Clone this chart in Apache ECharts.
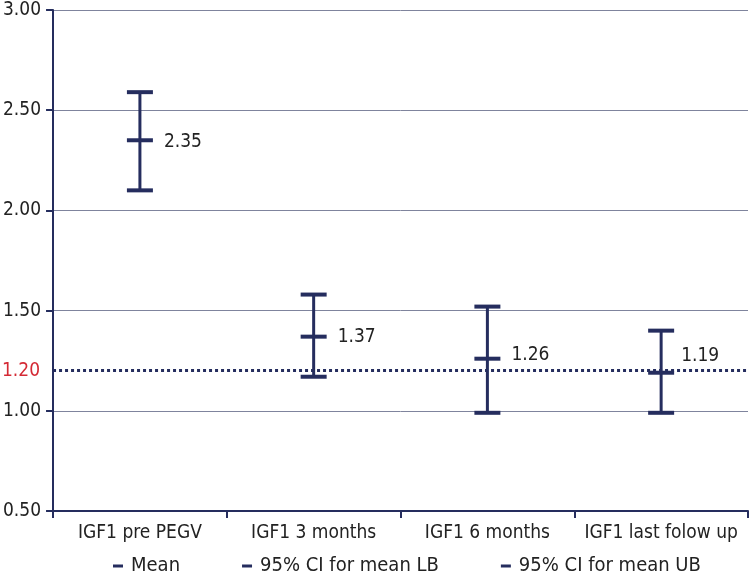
<!DOCTYPE html>
<html>
<head>
<meta charset="utf-8">
<script src="https://cdn.jsdelivr.net/npm/echarts@6/dist/echarts.min.js"></script>
<style>
html,body{margin:0;padding:0;background:#fff;}
#chart{width:750px;height:582px;}
</style>
</head>
<body>
<div id="chart"></div>
<script>
const categories = ['IGF1 pre PEGV', 'IGF1 3 months', 'IGF1 6 months', 'IGF1 last folow up'];
const meanValues = [2.35, 1.37, 1.26, 1.19];
const lbValues = [2.10, 1.17, 0.99, 0.99];
const ubValues = [2.59, 1.58, 1.52, 1.40];
const referenceLevel = 1.20;
const yMin = 0.5, yMax = 3.0, yStep = 0.5;
const legendNames = ['Mean', '95% CI for mean LB', '95% CI for mean UB'];

const NAVY = '#252d5e';
const FONT = "'DejaVu Sans Condensed', 'Liberation Sans Narrow', sans-serif";
const TXT = '#222222';

const chart = echarts.init(document.getElementById('chart'), null, {renderer: 'canvas'});

const capSeries = (name, values, withLabel) => ({
  name: name,
  type: 'scatter',
  symbol: 'rect',
  symbolSize: [26, 4],
  itemStyle: {color: NAVY, opacity: 1},
  emphasis: {disabled: true},
  z: 5,
  data: values.map((v, i) => {
    const item = {value: [i, v]};
    if (withLabel) {
      item.label = {
        show: true,
        position: 'right',
        distance: 11,
        formatter: v.toFixed(2),
        color: TXT,
        fontFamily: FONT,
        fontSize: 19
      };
      if (i === 0) item.label.offset = [0, 2];
      if (i === 2) item.label.offset = [0, -4];
      if (i === 3) item.label.offset = [-4, -17];
    }
    return item;
  })
});

const meanSeries = capSeries(legendNames[0], meanValues, true);
meanSeries.markLine = {
  silent: true,
  symbol: 'none',
  animation: false,
  lineStyle: {type: [3, 3], width: 3, color: NAVY},
  label: {
    show: true,
    position: 'start',
    distance: 13,
    formatter: referenceLevel.toFixed(2),
    color: '#d42a35',
    fontFamily: FONT,
    fontSize: 19
  },
  data: [{yAxis: referenceLevel}]
};

chart.setOption({
  animation: false,
  grid: {left: 52, right: 2, top: 10, bottom: 71, containLabel: false},
  legend: {
    left: 113,
    top: 556,
    padding: 0,
    icon: 'rect',
    itemWidth: 10,
    itemHeight: 3,
    itemGap: 62,
    data: legendNames,
    itemStyle: {opacity: 1},
    textStyle: {color: TXT, fontFamily: FONT, fontSize: 20, padding: [0, 0, 0, 3]}
  },
  xAxis: {
    type: 'category',
    data: categories,
    boundaryGap: true,
    axisLine: {lineStyle: {color: NAVY, width: 2}},
    axisTick: {show: true, length: 7, lineStyle: {color: NAVY, width: 2}},
    axisLabel: {color: TXT, fontFamily: FONT, fontSize: 19, margin: 13, interval: 0},
    splitLine: {show: false}
  },
  yAxis: {
    type: 'value',
    min: yMin,
    max: yMax,
    interval: yStep,
    axisLine: {show: true, lineStyle: {color: NAVY, width: 2}},
    axisTick: {show: true, length: 7, lineStyle: {color: NAVY, width: 2}},
    axisLabel: {
      color: TXT, fontFamily: FONT, fontSize: 19, margin: 12,
      formatter: v => v.toFixed(2)
    },
    splitLine: {show: true, lineStyle: {color: '#7f849d', width: 1}}
  },
  series: [
    {
      name: 'range',
      type: 'custom',
      z: 3,
      silent: true,
      data: categories.map((c, i) => [i, lbValues[i], ubValues[i]]),
      renderItem: function (params, api) {
        const p1 = api.coord([api.value(0), api.value(1)]);
        const p2 = api.coord([api.value(0), api.value(2)]);
        return {
          type: 'line',
          shape: {x1: p1[0], y1: p1[1], x2: p2[0], y2: p2[1]},
          style: {stroke: NAVY, lineWidth: 3}
        };
      }
    },
    meanSeries,
    capSeries(legendNames[1], lbValues, false),
    capSeries(legendNames[2], ubValues, false)
  ]
});
</script>
</body>
</html>
